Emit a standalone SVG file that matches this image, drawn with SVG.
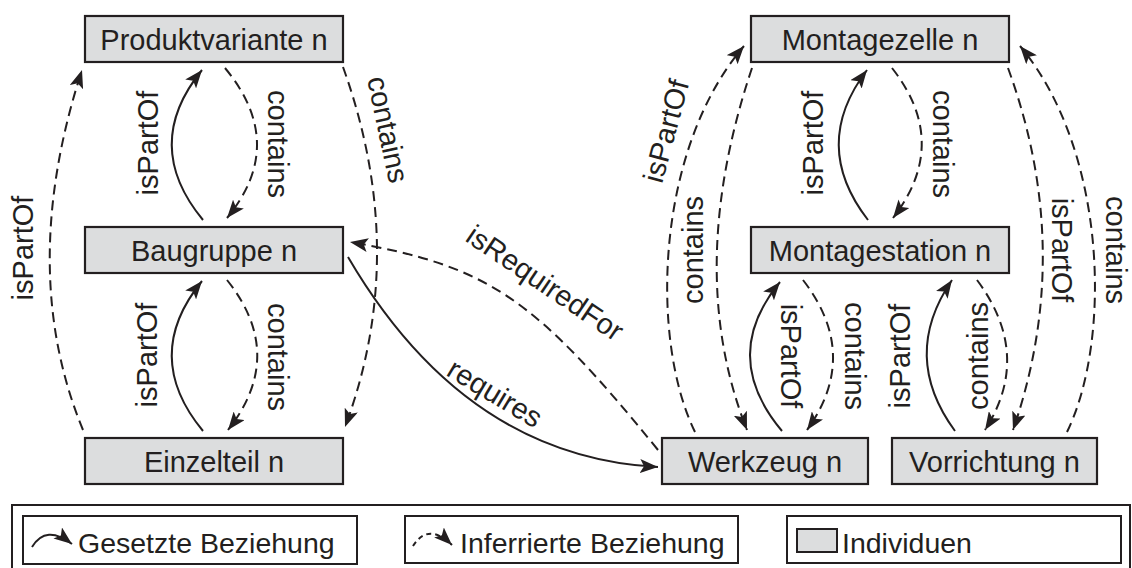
<svg xmlns="http://www.w3.org/2000/svg" width="1132" height="568" viewBox="0 0 1132 568">
  <style>
    .node rect { fill: #dcddde; stroke: #231f20; stroke-width: 2.2; }
    .node text, .lbl { font-family: "Liberation Sans", Arial, sans-serif; font-size: 29px; fill: #231f20; }
    .node text { text-anchor: middle; }
    .lbl { text-anchor: middle; }
    .set { fill: none; stroke: #231f20; stroke-width: 2; marker-end: url(#arrow); }
    .inf { fill: none; stroke: #231f20; stroke-width: 2; stroke-dasharray: 10 6; marker-end: url(#arrow); }
    .box { fill: #ffffff; stroke: #231f20; stroke-width: 2; }
    .legend-text { font-family: "Liberation Sans", Arial, sans-serif; font-size: 28.5px; fill: #231f20; }
  </style>
  <defs>
    <marker id="arrow" markerUnits="userSpaceOnUse" markerWidth="18" markerHeight="14" viewBox="0 0 18 14" refX="18" refY="7" orient="auto">
      <path d="M0,0 L18,7 L0,14 L4,7 Z" fill="#231f20"/>
    </marker>
  </defs>
  <rect width="1132" height="568" fill="#ffffff"/>

  <!-- product structure -->
  <g id="produktvariante" class="node">
    <rect x="85" y="16" width="258" height="46"/>
    <text x="214" y="49.5">Produktvariante n</text>
  </g>
  <g id="baugruppe" class="node">
    <rect x="85" y="227" width="258" height="46"/>
    <text x="214" y="260.5">Baugruppe n</text>
  </g>
  <g id="einzelteil" class="node">
    <rect x="85" y="438" width="258" height="46"/>
    <text x="214" y="471.5">Einzelteil n</text>
  </g>

  <!-- assembly resources -->
  <g id="montagezelle" class="node">
    <rect x="751" y="16" width="258" height="46"/>
    <text x="880" y="49.5">Montagezelle n</text>
  </g>
  <g id="montagestation" class="node">
    <rect x="751" y="227" width="258" height="46"/>
    <text x="880" y="260.5">Montagestation n</text>
  </g>
  <g id="werkzeug" class="node">
    <rect x="662" y="438" width="206" height="46"/>
    <text x="765" y="471.5">Werkzeug n</text>
  </g>
  <g id="vorrichtung" class="node">
    <rect x="892" y="438" width="205" height="46"/>
    <text x="994.5" y="471.5">Vorrichtung n</text>
  </g>

  <g id="connectors">
    <!-- left column -->
    <path class="set" d="M203,220 Q141,145 202,70"/>
    <path class="inf" d="M225,68 Q288,144 227,218"/>
    <path class="set" d="M203,431 Q141,356 202,281"/>
    <path class="inf" d="M227,280 Q287,355 228,430"/>
    <path class="inf" d="M83,430 Q17,270 82,70"/>
    <path class="inf" d="M343,67 Q410,253 345,427"/>
    <!-- between product and resources -->
    <path class="inf" d="M658,450 C534,297 488,266 350,242"/>
    <path class="set" d="M348,257 Q465,457 658,467"/>
    <!-- right column -->
    <path class="set" d="M868,220 Q810,145 867,70"/>
    <path class="inf" d="M892,68 Q951,143 893,218"/>
    <path class="inf" d="M695,432 C650,340 655,150 744,46"/>
    <path class="inf" d="M752,68 Q684,271 747,430"/>
    <path class="inf" d="M1008,68 Q1075,251 1013,430"/>
    <path class="inf" d="M1067,432 C1112,340 1107,150 1020,46"/>
    <path class="set" d="M782,431 Q719,356 780,282"/>
    <path class="inf" d="M803,280 Q861,355 807,430"/>
    <path class="set" d="M955,431 Q900,356 952,280"/>
    <path class="inf" d="M977,280 Q1033,355 985,430"/>
  </g>

  <g id="labels">
    <text class="lbl" transform="translate(158,143) rotate(-90)">isPartOf</text>
    <text class="lbl" transform="translate(268,144) rotate(90)">contains</text>
    <text class="lbl" transform="translate(157,355) rotate(-90)">isPartOf</text>
    <text class="lbl" transform="translate(268,357) rotate(90)">contains</text>
    <text class="lbl" transform="translate(33,248) rotate(-90)">isPartOf</text>
    <text class="lbl" transform="translate(386,130) rotate(78)" y="8">contains</text>
    <text class="lbl" transform="translate(545,283) rotate(34)" y="10">isRequiredFor</text>
    <text class="lbl" transform="translate(494,395) rotate(31)" y="8">requires</text>
    <text class="lbl" transform="translate(823,143) rotate(-90)">isPartOf</text>
    <text class="lbl" transform="translate(933,144) rotate(90)">contains</text>
    <text class="lbl" transform="translate(666,131) rotate(-75)" y="10">isPartOf</text>
    <text class="lbl" transform="translate(703,250) rotate(-90)">contains</text>
    <text class="lbl" transform="translate(1052,250) rotate(90)">isPartOf</text>
    <text class="lbl" transform="translate(1106,250) rotate(90)">contains</text>
    <text class="lbl" transform="translate(781,356) rotate(90)">isPartOf</text>
    <text class="lbl" transform="translate(845,356) rotate(90)">contains</text>
    <text class="lbl" transform="translate(910,356) rotate(-90)">isPartOf</text>
    <text class="lbl" transform="translate(988,356) rotate(-90)">contains</text>
  </g>

  <g id="legend">
    <rect class="box" x="12" y="505" width="1118" height="75"/>
    <rect class="box" x="23" y="516" width="334" height="48"/>
    <rect class="box" x="405" y="516" width="333" height="47"/>
    <rect class="box" x="787" y="516" width="334" height="47"/>
    <path d="M32,547 Q46,524 72,544" fill="none" stroke="#231f20" stroke-width="2" marker-end="url(#arrow)"/>
    <text class="legend-text" x="78" y="553">Gesetzte Beziehung</text>
    <path d="M413,546 Q428,522 452,545" fill="none" stroke="#231f20" stroke-width="2" stroke-dasharray="5 4" marker-end="url(#arrow)"/>
    <text class="legend-text" x="460" y="553">Inferrierte Beziehung</text>
    <rect x="797" y="529" width="40" height="23" fill="#dcddde" stroke="#231f20" stroke-width="2"/>
    <text class="legend-text" x="842" y="553">Individuen</text>
  </g>
</svg>
